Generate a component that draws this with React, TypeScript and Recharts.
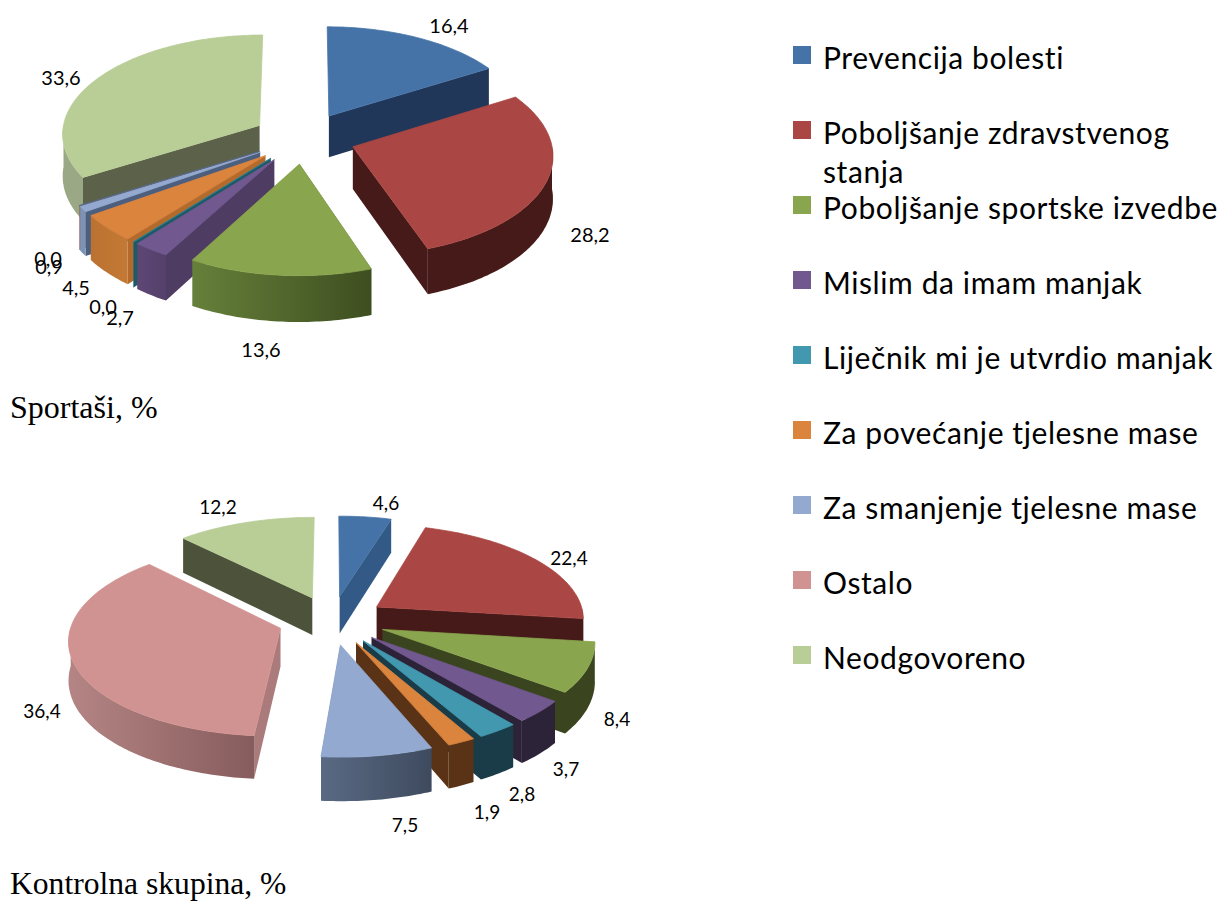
import { Legend, Pie, PieChart } from "recharts"

const categories = [
  "Prevencija bolesti",
  "Poboljšanje zdravstvenog stanja",
  "Poboljšanje sportske izvedbe",
  "Mislim da imam manjak",
  "Liječnik mi je utvrdio manjak",
  "Za povećanje tjelesne mase",
  "Za smanjenje tjelesne mase",
  "Ostalo",
  "Neodgovoreno",
]

// the two 0,0 slices are thin slivers in the picture, not empty
const sportasi = [16.4, 28.2, 13.6, 2.7, 0.04, 4.5, 0.9, 0.04, 33.6]
const kontrolna = [4.6, 22.4, 8.4, 3.7, 2.8, 1.9, 7.5, 36.4, 12.2]

const sliceColors = ["#4573a7", "#aa4643", "#89a54e", "#71588f", "#4198af", "#db843d", "#93a9cf", "#d19392", "#b9cd96"]
// the Ostalo sliver of the upper pie only shows as a dark line
const sliceColorsTop = ["#4573a7", "#aa4643", "#89a54e", "#71588f", "#2f7f92", "#db843d", "#93a9cf", "#566a8c", "#b9cd96"]

type Wall = { side: string; from: string; to: string }

const wallsTop: Wall[] = [
  { side: "#21375a", from: "#21375a", to: "#21375a" },
  { side: "#451a18", from: "#451a18", to: "#451a18" },
  { side: "#3e4e20", from: "#66803a", to: "#3e4e20" },
  { side: "#4f3c63", from: "#5e4775", to: "#54406b" },
  { side: "#1c5a68", from: "#1c6a7a", to: "#1c6a7a" },
  { side: "#b36a2a", from: "#bb7231", to: "#c47a35" },
  { side: "#4c5f7f", from: "#7d93b5", to: "#7d93b5" },
  { side: "#8a5f5f", from: "#a87777", to: "#a87777" },
  { side: "#5c6149", from: "#9aa885", to: "#9aa885" },
]

const wallsBottom: Wall[] = [
  { side: "#335a87", from: "#335a87", to: "#335a87" },
  { side: "#451a18", from: "#451a18", to: "#451a18" },
  { side: "#3a4520", from: "#3a4520", to: "#3a4520" },
  { side: "#2c2338", from: "#2c2338", to: "#2c2338" },
  { side: "#193c48", from: "#193c48", to: "#193c48" },
  { side: "#5a3317", from: "#5a3317", to: "#5a3317" },
  { side: "#4a5870", from: "#5a6a84", to: "#3e4a5e" },
  { side: "#ab7a7a", from: "#b58585", to: "#875c5c" },
  { side: "#4d533a", from: "#4d533a", to: "#4d533a" },
]

const labelsTop = [
  [449, 25], [590, 234], [261, 349], [120, 317], [103, 306], [76, 287], [49, 266], [48, 258], [61, 77],
]
const labelsBottom = [
  [386, 502], [569, 557], [617, 718], [566, 768], [522, 793], [487, 811], [405, 824], [42, 710], [218, 506],
]

const RAD = Math.PI / 180

type View = { name: string; ry: number; k: number; explode: number; depth: number; walls: Wall[] }

const viewTop: View = { name: "top", ry: 99, k: 0.075, explode: 0.26, depth: 42, walls: wallsTop }
const viewBottom: View = { name: "bottom", ry: 94, k: 0.11, explode: 0.26, depth: 38, walls: wallsBottom }

// tilted pie: flatten the circle, a bit of perspective, push each slice out along its middle
function projector(props: any, view: View) {
  const { cx, cy, outerRadius: R, startAngle, endAngle } = props
  const mid = ((startAngle + endAngle) / 2) * RAD
  return (theta: number, r: number, z = 0) => {
    const t = theta * RAD
    const u = view.explode * Math.cos(mid) + r * Math.cos(t)
    const v = -(view.explode * Math.sin(mid) + r * Math.sin(t))
    const s = 1 / (1 - view.k * v)
    return [cx + R * u * s, cy + view.ry * v * s + z * s]
  }
}

const toPath = (pts: number[][]) => "M" + pts.map((p) => p[0].toFixed(1) + "," + p[1].toFixed(1)).join("L") + "Z"

function arcAngles(a: number, b: number) {
  const n = Math.max(2, Math.ceil(Math.abs(b - a)))
  const out: number[] = []
  for (let i = 0; i <= n; i++) out.push(a + ((b - a) * i) / n)
  return out
}

// walls of one half only, so each half can be painted back to front
function wallShape(view: View, half: "left" | "right") {
  return (props: any) => {
    const { startAngle, endAngle, idx } = props
    const midAngle = (startAngle + endAngle) / 2
    const onLeft = Math.cos(midAngle * RAD) < 0
    if (onLeft !== (half === "left")) return <g />
    // clockwise edge and counter-clockwise edge, whatever way the pie was swept
    const cw = Math.min(startAngle, endAngle)
    const ccw = Math.max(startAngle, endAngle)
    const at = projector(props, view)
    const wall = view.walls[idx]
    const d = view.depth
    // only the radial edge that faces the viewer
    const edge = onLeft ? ccw : cw
    const side = [at(edge, 0), at(edge, 1), at(edge, 1, d), at(edge, 0, d)]
    const front = arcAngles(startAngle, endAngle).filter((t) => Math.sin(t * RAD) <= 0.01)
    const gid = "wall-" + view.name + "-" + idx
    return (
      <g>
        <linearGradient id={gid} x1="0" x2="1" y1="0" y2="0">
          <stop offset="0" stopColor={wall.from} />
          <stop offset="1" stopColor={wall.to} />
        </linearGradient>
        <path d={toPath(side)} fill={wall.side} />
        {front.length > 1 && (
          <path
            d={toPath([...front.map((t) => at(t, 1)), ...front.slice().reverse().map((t) => at(t, 1, d))])}
            fill={"url(#" + gid + ")"}
          />
        )}
      </g>
    )
  }
}

function topShape(view: View) {
  return (props: any) => {
    const { startAngle, endAngle, fill } = props
    const at = projector(props, view)
    const pts = [at(startAngle, 0), ...arcAngles(startAngle, endAngle).map((t) => at(t, 1))]
    return <path d={toPath(pts)} fill={fill} stroke={fill} strokeWidth={0.8} />
  }
}

function valueLabel(positions: number[][], size: number) {
  return (props: any) => {
    const [x, y] = positions[props.idx ?? props.index]
    return (
      <text x={x} y={y} textAnchor="middle" dominantBaseline="central" fontFamily="Lato" fontSize={size} fill="#000">
        {props.value.toFixed(1).replace(".", ",")}
      </text>
    )
  }
}

const rows = (values: number[], colors: string[]) =>
  categories.map((name, idx) => ({ name, idx, value: values[idx], fill: colors[idx] }))

function LegendBox() {
  return (
    <div style={{ position: "relative", width: 1229, height: 903 }}>
      {categories.map((name, i) => (
        <div key={name} style={{ position: "absolute", left: 793, top: 46 + i * 75 }}>
          <div style={{ position: "absolute", left: 0, top: 0, width: 18, height: 18, background: sliceColors[i] }} />
          <div
            style={{
              position: "absolute",
              left: 30,
              top: -8,
              width: 400,
              fontFamily: "Lato",
              fontSize: 30,
              letterSpacing: 0.6,
              lineHeight: "39px",
              color: "#000",
              textAlign: "left",
            }}
          >
            {name}
          </div>
        </div>
      ))}
    </div>
  )
}

function PieWalls({ values, colors, cx, cy, r, view }: any) {
  const data = rows(values, colors)
  return (
    <>
      {/* left half swept backwards so the far slices are painted first */}
      <Pie
        data={data.slice().reverse()}
        dataKey="value"
        cx={cx}
        cy={cy}
        outerRadius={r}
        startAngle={-270}
        endAngle={90}
        stroke="none"
        shape={wallShape(view, "left")}
        isAnimationActive={false}
      />
      <Pie
        data={data}
        dataKey="value"
        cx={cx}
        cy={cy}
        outerRadius={r}
        startAngle={90}
        endAngle={-270}
        stroke="none"
        shape={wallShape(view, "right")}
        isAnimationActive={false}
      />
    </>
  )
}

export default function App() {
  return (
    <div style={{ position: "absolute", left: 0, top: 0, width: 1229, height: 903, background: "#fff" }}>
      <PieChart width={1229} height={903} margin={{ top: 0, right: 0, bottom: 0, left: 0 }}>
        {PieWalls({ values: sportasi, colors: sliceColorsTop, cx: 304, cy: 138, r: 198, view: viewTop })}
        <Pie
          data={rows(sportasi, sliceColorsTop)}
          dataKey="value"
          cx={304}
          cy={138}
          outerRadius={198}
          startAngle={90}
          endAngle={-270}
          stroke="none"
          shape={topShape(viewTop)}
          label={valueLabel(labelsTop, 20)}
          labelLine={false}
          isAnimationActive={false}
        />
        {PieWalls({ values: kontrolna, colors: sliceColors, cx: 332, cy: 620, r: 208, view: viewBottom })}
        <Pie
          data={rows(kontrolna, sliceColors)}
          dataKey="value"
          cx={332}
          cy={620}
          outerRadius={208}
          startAngle={90}
          endAngle={-270}
          stroke="none"
          shape={topShape(viewBottom)}
          label={valueLabel(labelsBottom, 19)}
          labelLine={false}
          isAnimationActive={false}
        />
        <text x={10} y={418} fontFamily="Liberation Serif" fontSize={32} fill="#000">
          Sportaši, %
        </text>
        <text x={10} y={894} fontFamily="Liberation Serif" fontSize={31.6} fill="#000">
          Kontrolna skupina, %
        </text>
        <Legend content={<LegendBox />} wrapperStyle={{ position: "absolute", left: 0, top: 0, width: 1229, height: 903 }} />
      </PieChart>
    </div>
  )
}
